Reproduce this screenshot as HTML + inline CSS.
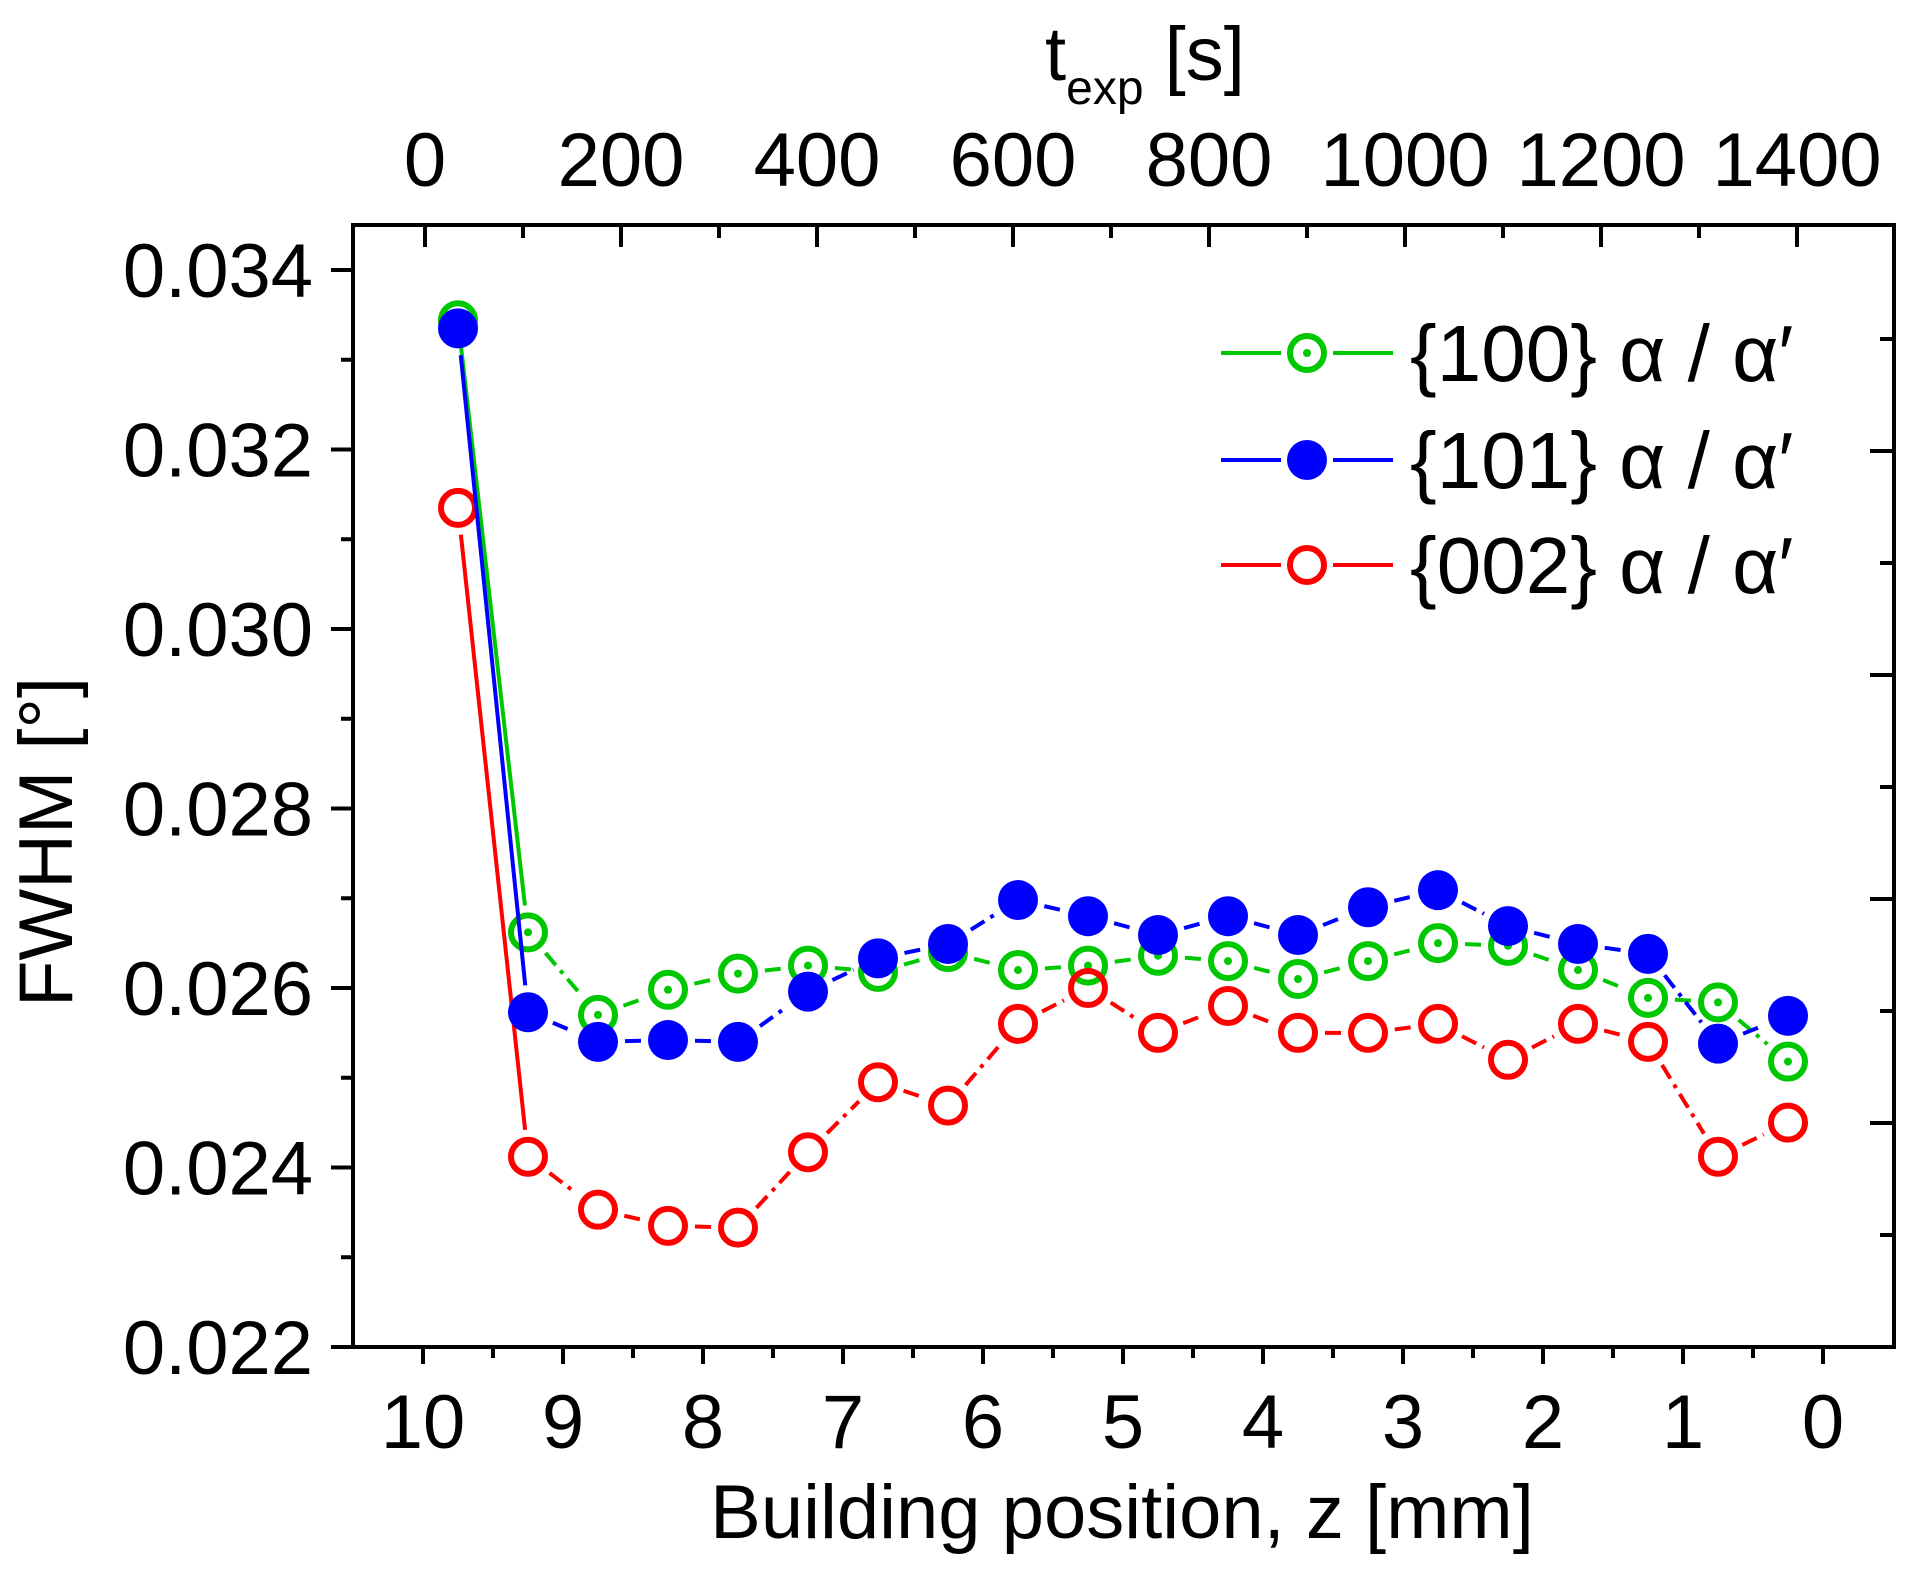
<!DOCTYPE html>
<html><head><meta charset="utf-8">
<style>
html,body{margin:0;padding:0;background:#fff;}
svg{display:block;font-family:"Liberation Sans",Arial,sans-serif;}
</style></head>
<body>
<svg id="chart" width="1910" height="1575" viewBox="0 0 1910 1575" xmlns="http://www.w3.org/2000/svg">
<rect x="0" y="0" width="1910" height="1575" fill="#fff"/>
<g id="ticks"></g>
<g id="series"></g>
<rect x="353" y="225" width="1541" height="1122" fill="none" stroke="#000" stroke-width="4"/>
<text x="1122" y="1538" font-size="76" text-anchor="middle">Building position, z [mm]</text>
<text transform="translate(72,842) rotate(-90)" font-size="76" text-anchor="middle">FWHM [°]</text>
<text x="1045" y="80" font-size="76">t<tspan font-size="48" dy="24">exp</tspan><tspan dy="-24"> [s]</tspan></text>
<g id="legend"></g>
</svg>
<script>
const zPositions = [9.75,9.25,8.75,8.25,7.75,7.25,6.75,6.25,5.75,5.25,4.75,4.25,3.75,3.25,2.75,2.25,1.75,1.25,0.75,0.25];
const green100 = [0.03344,0.02662,0.0257,0.02598,0.02616,0.02625,0.02618,0.0264,0.0262,0.02625,0.02636,0.0263,0.0261,0.0263,0.0265,0.02647,0.0262,0.02589,0.02584,0.02518];
const blue101 = [0.03335,0.02573,0.0254,0.02542,0.0254,0.02596,0.02633,0.02649,0.02698,0.0268,0.02659,0.0268,0.02659,0.0269,0.02709,0.02669,0.02649,0.02638,0.02538,0.02569];
const red002 = [0.03135,0.02412,0.02353,0.02335,0.02333,0.02417,0.02495,0.02469,0.0256,0.026,0.0255,0.0258,0.0255,0.0255,0.0256,0.0252,0.0256,0.0254,0.02412,0.0245];
const yTickLabels = ["0.022","0.024","0.026","0.028","0.030","0.032","0.034"];
const yTickValues = [0.022,0.024,0.026,0.028,0.030,0.032,0.034];
const xTickValues = [10,9,8,7,6,5,4,3,2,1,0];
const topTickValues = [0,200,400,600,800,1000,1200,1400];

const NS="http://www.w3.org/2000/svg";
function X(z){return 423+(10-z)*140;}
function Y(v){return 1347-(v-0.022)/0.002*179.5;}
function T(t){return 425+t/200*196;}
function mk(tag,attrs,parent){const e=document.createElementNS(NS,tag);for(const k in attrs)e.setAttribute(k,attrs[k]);parent.appendChild(e);return e;}
const ticks=document.getElementById('ticks');
yTickValues.forEach((v,i)=>{
  const t=mk('line',{x1:331,x2:353,y1:Y(v),y2:Y(v),stroke:'#000','stroke-width':4},ticks);
  
  
  const l=mk('text',{x:313,y:Y(v)+27,'font-size':76,'text-anchor':'end'},ticks);
  l.textContent=yTickLabels[i];
  
  
  if(i<yTickValues.length-1){
    const m=mk('line',{x1:341,x2:353,y1:Y(v+0.001),y2:Y(v+0.001),stroke:'#000','stroke-width':4},ticks);
    
    
  }
});
for(let k=1;k<=9;k++){
  const y=1347-k*112;
  const r=mk('line',{x1:1894-(k%2?14:24),x2:1894,y1:y,y2:y,stroke:'#000','stroke-width':4},ticks);
  
  
}
xTickValues.forEach(z=>{
  const t=mk('line',{x1:X(z),x2:X(z),y1:1347,y2:1364,stroke:'#000','stroke-width':4},ticks);
  
  
  const l=mk('text',{x:X(z),y:1448,'font-size':76,'text-anchor':'middle'},ticks);
  l.textContent=z;
  
  
  if(z>0){const m=mk('line',{x1:X(z-0.5),x2:X(z-0.5),y1:1347,y2:1358,stroke:'#000','stroke-width':4},ticks);
    
    }
});
topTickValues.forEach(t=>{
  const k=mk('line',{x1:T(t),x2:T(t),y1:225,y2:247,stroke:'#000','stroke-width':4},ticks);
  
  
  const l=mk('text',{x:T(t),y:186,'font-size':76,'text-anchor':'middle'},ticks);
  l.textContent=t;
  
  
  if(t<1400){const m=mk('line',{x1:T(t+100),x2:T(t+100),y1:225,y2:238,stroke:'#000','stroke-width':4},ticks);
    
    }
});
const series=document.getElementById('series');
function drawSeries(vals,color,type,name){
  const g=mk('g',{},series);
  
  
  const R=19,gap=8;
  for(let i=0;i<vals.length-1;i++){
    const x1=X(zPositions[i]),y1=Y(vals[i]),x2=X(zPositions[i+1]),y2=Y(vals[i+1]);
    const dx=x2-x1,dy=y2-y1,L=Math.hypot(dx,dy);
    const s=(R+gap)/L; if(2*s>=1) continue;
    const ln=mk('line',{x1:x1+dx*s,y1:y1+dy*s,x2:x2-dx*s,y2:y2-dy*s,stroke:color,'stroke-width':4},g);
    if(i>0) ln.setAttribute('stroke-dasharray','16 7 4 7');
    
    
  }
  vals.forEach((v,i)=>{
    const c=mk('circle',{cx:X(zPositions[i]),cy:Y(v),r:type==='filled'?20:17,fill:type==='filled'?color:'none',stroke:color,'stroke-width':type==='filled'?0:6},g);
    
    
    if(type==='dot'){const d=mk('circle',{cx:X(zPositions[i]),cy:Y(v),r:4,fill:color},g);
      
      }
  });
}
drawSeries(green100,'#00c800','dot','series-100');
drawSeries(red002,'#ff0000','open','series-002');
drawSeries(blue101,'#0000ff','filled','series-101');
const legend=document.getElementById('legend');
const legendNames=['{100} α / α′','{101} α / α′','{002} α / α′'];
const legendColors=['#00c800','#0000ff','#ff0000'];
const legendTypes=['dot','filled','open'];
const legendY=[353,460,565];
legendNames.forEach((n,i)=>{
  const y=legendY[i],c=legendColors[i];
  const a=mk('line',{x1:1221,x2:1281,y1:y,y2:y,stroke:c,'stroke-width':4},legend);
  
  
  const b=mk('line',{x1:1333,x2:1393,y1:y,y2:y,stroke:c,'stroke-width':4},legend);
  
  
  const m=mk('circle',{cx:1307,cy:y,r:legendTypes[i]==='filled'?20:17,fill:legendTypes[i]==='filled'?c:'none',stroke:c,'stroke-width':legendTypes[i]==='filled'?0:6},legend);
  
  
  if(legendTypes[i]==='dot'){const d=mk('circle',{cx:1307,cy:y,r:4,fill:c},legend);
    
    }
  const t=mk('text',{x:1410,y:y+28,'font-size':80},legend);
  t.textContent=n;
  
  
});
</script>
</body></html>
